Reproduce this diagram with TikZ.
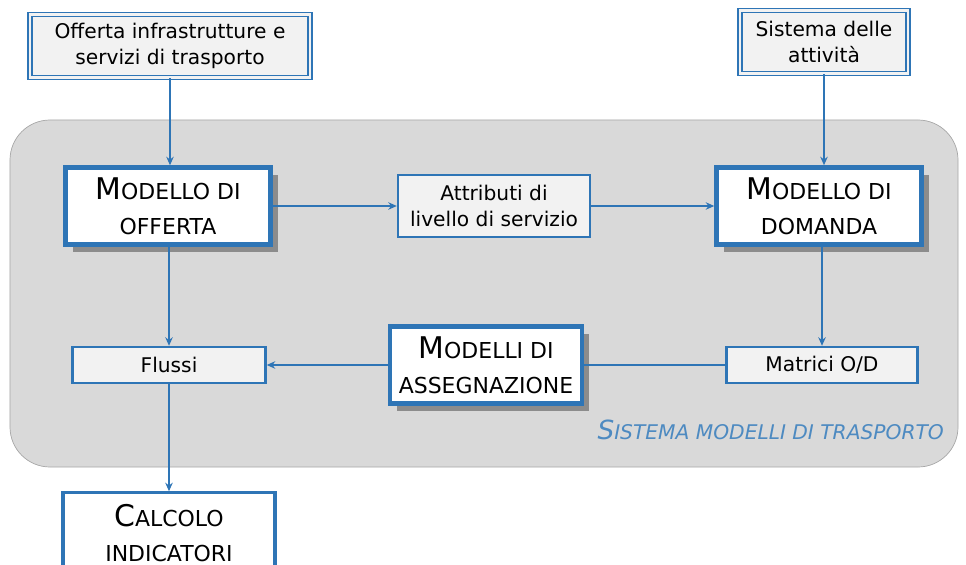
\documentclass[tikz,border=0pt]{standalone}
\usepackage{fontspec}
\setmainfont{DejaVu Sans}
\usepackage{tikz}
\usetikzlibrary{arrows.meta,positioning,shadows}

\definecolor{boxblue}{RGB}{46,117,182}
\definecolor{paneltint}{RGB}{217,217,217}
\definecolor{boxtint}{RGB}{242,242,242}
\newcommand{\bigfirst}[2]{{\fontsize{17}{20}\selectfont #1}{\fontsize{12.5}{20}\selectfont #2}}

\begin{document}
\begin{tikzpicture}[
        inbox/.style={draw=boxblue, line width=1pt, double=boxtint, double distance=1.2pt, fill=boxtint, minimum height=1.26cm, align=center, font=\fontsize{11.5}{15}\selectfont},
        infobox/.style={draw=boxblue, line width=1.4pt, fill=boxtint, align=center, font=\fontsize{11.5}{15}\selectfont},
        model/.style={draw=boxblue, line width=2.6pt, fill=white, minimum width=4.1cm, minimum height=1.54cm, inner sep=2pt, align=center,
          font=\fontsize{12.5}{20}\selectfont,
          drop shadow={shadow xshift=4pt, shadow yshift=-4pt, fill=black!55, opacity=0.75}},
        arr/.style={-{Stealth[length=1.7mm, width=1.5mm]}, line width=1.6pt, draw=boxblue},
        conn/.style={line width=1.6pt, draw=boxblue}
      ]
        \useasboundingbox (0,0) rectangle (19.32,11.28);
        % pannello del sistema di modelli
        \node[draw=black!35, fill=paneltint, rounded corners=0.8cm, minimum width=18.96cm, minimum height=6.94cm] (panel) at (9.68,5.41) {};
        \node[anchor=east, text=boxblue!85, font=\itshape] (sysname) at (19.0,2.68) {{\fontsize{15}{18}\selectfont S}{\fontsize{11.5}{18}\selectfont ISTEMA MODELLI DI TRASPORTO}};

        % ingressi esterni
        \node[inbox, minimum width=5.6cm] (offin) at (3.40,10.36) {Offerta infrastrutture e\\servizi di trasporto};
        \node[inbox, minimum width=3.36cm] (attiv) at (16.48,10.44) {Sistema delle\\attività};

        % modelli
        \node[model] (mofferta) at (3.36,7.16) {\bigfirst{M}{ODELLO DI}\\OFFERTA};
        \node[infobox, minimum width=3.84cm, minimum height=1.24cm] (attrib) at (9.88,7.16) {Attributi di\\livello di servizio};
        \node[model] (mdomanda) at (16.38,7.16) {\bigfirst{M}{ODELLO DI}\\DOMANDA};
        \node[infobox, minimum width=3.86cm, minimum height=0.72cm] (flussi) at (3.38,3.98) {Flussi};
        \node[model, minimum width=3.84cm] (massegn) at (9.72,3.98) {\bigfirst{M}{ODELLI DI}\\ASSEGNAZIONE};
        \node[infobox, line width=1.8pt, fill=white, minimum width=4.24cm, minimum height=1.6cm, font=\fontsize{12.5}{20}\selectfont, below=2.14cm of flussi.south, anchor=north] (calcolo) {\bigfirst{C}{ALCOLO}\\INDICATORI};
        \node[infobox, minimum width=3.82cm, minimum height=0.72cm] (matrici) at (16.44,3.98) {Matrici O/D};

        % collegamenti
        \draw[arr] (offin) -- (offin |- mofferta.north);
        \draw[arr] (attiv) -- (attiv |- mdomanda.north);
        \draw[arr] (mofferta) -- (attrib);
        \draw[arr] (attrib) -- (mdomanda);
        \draw[arr] (mdomanda.south -| matrici) -- (matrici);
        \draw[conn] (matrici) -- (massegn);
        \draw[arr] (massegn) -- (flussi);
        \draw[arr] (mofferta.south -| flussi) -- (flussi);
        \draw[arr] (flussi) -- (calcolo);
      \end{tikzpicture}
\end{document}
